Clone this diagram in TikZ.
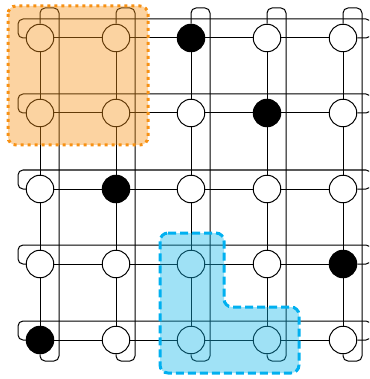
\documentclass[tikz,border=0pt]{standalone}
\definecolor{regorange}{RGB}{247,145,20}
\definecolor{regblue}{RGB}{17,182,232}
\definecolor{edgeblue}{RGB}{0,176,240}
\begin{document}
\begin{tikzpicture}[x=1pt,y=-1pt,
  qubit/.style={circle, draw, line width=1pt, minimum size=27.5pt, inner sep=0pt, fill=white},
  darkqubit/.style={qubit, fill=black},
  wire/.style={line width=1pt, rounded corners=5pt},
  orangeregion/.style={fill=regorange, fill opacity=0.4, draw=regorange, draw opacity=1, line width=3pt, dash pattern=on 3pt off 4pt, rounded corners=8pt},
  blueregion/.style={fill=regblue, fill opacity=0.4, draw=edgeblue, draw opacity=1, line width=3pt, dash pattern=on 8pt off 4pt, rounded corners=8pt}]
\useasboundingbox (0,0) rectangle (369,379);
\clip (0,0) rectangle (369,379);
% qubits
\node[qubit] (n11) at (40,38) {};
\node[qubit] (n12) at (116,38) {};
\node[darkqubit] (n13) at (191,38) {};
\node[qubit] (n14) at (267,38) {};
\node[qubit] (n15) at (343,38) {};
\node[qubit] (n21) at (40,113) {};
\node[qubit] (n22) at (116,113) {};
\node[qubit] (n23) at (191,113) {};
\node[darkqubit] (n24) at (267,113) {};
\node[qubit] (n25) at (343,113) {};
\node[qubit] (n31) at (40,189) {};
\node[darkqubit] (n32) at (116,189) {};
\node[qubit] (n33) at (191,189) {};
\node[qubit] (n34) at (267,189) {};
\node[qubit] (n35) at (343,189) {};
\node[qubit] (n41) at (40,264) {};
\node[qubit] (n42) at (116,264) {};
\node[qubit] (n43) at (191,264) {};
\node[qubit] (n44) at (267,264) {};
\node[darkqubit] (n45) at (343,264) {};
\node[darkqubit] (n51) at (40,340) {};
\node[qubit] (n52) at (116,340) {};
\node[qubit] (n53) at (191,340) {};
\node[qubit] (n54) at (267,340) {};
\node[qubit] (n55) at (343,340) {};
% row wires
\foreach \r/\y in {1/38,2/113,3/189,4/264,5/340}{
  \foreach \a/\b in {1/2,2/3,3/4,4/5}
    \draw[wire] (n\r\a) -- (n\r\b);
  \draw[wire] (n\r1.west) -- (18,\y) -- (18,\y-19) -- (371,\y-19) -- (371,\y) -- (n\r5.east);
}
% column wires
\foreach \c/\x in {1/40,2/116,3/191,4/267,5/343}{
  \foreach \a/\b in {1/2,2/3,3/4,4/5}
    \draw[wire] (n\a\c) -- (n\b\c);
  \draw[wire] (n1\c.north) -- (\x,8) -- (\x+19,8) -- (\x+19,361) -- (\x,361) -- (n5\c.south);
}
% regions
\draw[orangeregion] (8,6) rectangle (148,145);
\draw[blueregion] (160,233) -- (224,233) -- (224,307) -- (299,307) -- (299,373) -- (160,373) -- cycle;
\end{tikzpicture}
\end{document}
